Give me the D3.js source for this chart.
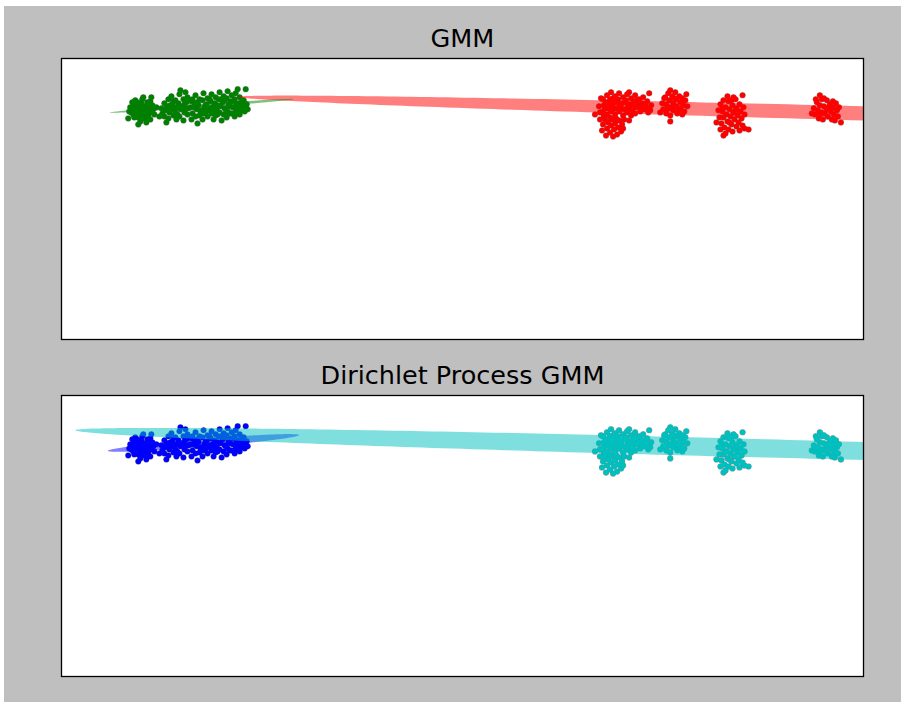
<!DOCTYPE html>
<html>
<head>
<meta charset="utf-8">
<script src="https://cdn.jsdelivr.net/npm/d3@7"></script>
<style>
  html, body { margin: 0; padding: 0; background: #ffffff; }
  svg { display: block; }
  text { font-family: "DejaVu Sans", sans-serif; }
</style>
</head>
<body>
<script>
// Samples, grouped by blob (x, y in data units)
const clusterA = [
  [7.1,22.9],[7.3,23.3],[7.5,22.6],[7.6,23.6],[7.8,23.0],[7.9,22.3],[8.0,23.5],[8.2,22.8],[8.3,23.2],
  [8.5,22.5],[8.6,23.6],[8.8,23.0],[9.0,22.6],[9.1,23.3],[7.2,22.4],[7.4,23.8],[7.7,22.1],[8.1,23.9],
  [8.4,22.0],[8.7,22.2],[9.2,22.9],[6.9,23.1],[7.0,22.6],[7.6,22.9],[8.0,22.7],[8.3,22.5],[8.6,22.9],
  [7.9,23.3],[8.9,23.7],[7.3,22.1],[7.5,23.2],[8.1,22.0],[8.7,23.3],[9.3,22.4],[6.8,22.7],[7.9,21.7],
  [8.5,21.6],[9.5,23.1],[7.1,23.6],[8.2,24.1],[9.8,22.2],[6.7,22.0],[8.9,21.9],[7.7,21.4],[9.0,24.1]
];
const clusterB = [
  [10.0,23.0],[10.1,22.5],[10.3,23.5],[10.4,22.8],[10.3,22.2],[10.7,23.9],[10.6,23.2],[10.8,22.6],
  [10.7,22.0],[11.0,24.2],[11.1,23.4],[11.0,22.9],[11.2,22.3],[11.4,23.8],[11.5,23.1],[11.4,22.6],
  [11.5,21.9],[11.8,24.4],[11.7,23.5],[11.9,22.9],[11.8,22.2],[12.2,23.9],[12.1,23.2],[12.3,22.6],
  [12.2,21.8],[12.6,24.1],[12.5,23.6],[12.7,23.0],[12.6,22.4],[13.0,23.7],[12.9,23.1],[13.1,22.5],
  [13.0,21.9],[13.4,24.3],[13.3,23.5],[13.5,22.9],[13.4,22.2],[13.8,23.9],[13.7,23.3],[13.9,22.7],
  [14.2,24.5],[14.1,23.8],[14.3,23.1],[14.2,22.5],[14.1,21.9],[14.6,24.0],[14.5,23.4],[14.7,22.8],
  [14.6,22.2],[15.0,24.4],[14.9,23.7],[15.1,23.1],[15.0,22.5],[15.4,24.1],[15.3,23.5],[15.5,22.9],
  [15.4,22.3],[15.8,24.6],[15.7,23.9],[15.9,23.2],[15.8,22.6],[16.2,24.2],[16.1,23.6],[16.3,23.0],
  [16.2,22.4],[16.6,24.7],[16.5,24.0],[16.7,23.4],[16.6,22.7],[16.5,22.1],[17.0,24.3],[16.9,23.7],
  [17.1,23.1],[17.0,22.5],[17.4,24.5],[17.3,23.9],[17.5,23.3],[17.4,22.7],[17.3,22.2],[17.8,24.1],
  [17.7,23.5],[17.9,22.9],[17.8,22.4],[18.2,23.8],[18.1,23.2],[18.3,22.7],[18.5,23.4],[18.6,22.9],
  [11.9,24.8],[18.4,24.9],[13.6,21.5],[16.0,21.8],[10.5,21.6],[12.4,24.6],[15.2,21.9],[17.6,24.9],
  [10.5,23.0],[11.2,23.7],[11.6,22.4],[12.0,23.0],[12.4,22.9],[12.8,23.8],[13.2,23.1],[13.6,23.6],
  [14.0,22.8],[14.4,23.3],[14.8,23.9],[15.2,22.7],[15.6,23.3],[16.0,23.9],[16.4,22.9],[16.8,23.2],
  [17.2,23.7],[17.6,23.0],[18.0,23.6],[18.4,23.2],[10.9,23.3],[11.3,22.9],[12.3,23.4],[13.1,23.9],
  [13.8,22.3],[14.4,22.6],[15.6,22.4],[16.8,22.5],[17.6,22.6],[18.0,22.8],[14.9,23.0],[16.3,23.8]
];
const clusterC = [
  [53.6,23.2],[53.7,22.6],[54.0,23.9],[54.1,23.3],[54.0,22.7],[54.1,22.2],[54.4,24.3],[54.3,23.6],
  [54.5,23.0],[54.4,22.4],[54.8,24.6],[54.7,23.9],[54.9,23.3],[54.8,22.7],[54.7,22.1],[55.2,24.2],
  [55.1,23.6],[55.3,23.0],[55.2,22.4],[55.6,24.5],[55.5,23.9],[55.7,23.3],[55.6,22.7],[56.0,24.1],
  [55.9,23.5],[56.1,22.9],[56.0,22.3],[56.4,24.4],[56.3,23.8],[56.5,23.2],[56.4,22.6],[56.8,24.0],
  [56.7,23.4],[56.9,22.8],[56.8,22.3],[57.2,24.3],[57.1,23.7],[57.3,23.1],[57.2,22.5],[57.6,23.9],
  [57.5,23.3],[57.7,22.7],[58.0,24.1],[57.9,23.5],[58.1,22.9],[58.4,23.7],[58.3,23.1],[58.5,22.6],
  [58.8,23.3],[58.7,22.8],[54.2,23.0],[54.6,23.5],[55.0,22.9],[55.4,23.6],[55.8,23.0],[56.2,23.6],
  [56.6,23.0],[57.0,23.3],[57.4,23.8],[57.8,23.1],[58.2,23.4],[56.6,24.6],[55.0,24.0],
  [53.7,21.9],[54.0,21.4],[54.2,21.9],[54.4,21.0],[54.5,21.6],[54.7,20.6],[54.8,21.3],[54.9,21.9],
  [55.1,20.9],[55.2,21.5],[55.4,20.4],[55.5,21.1],[55.6,21.8],[55.8,20.7],[55.9,21.4],[56.1,21.9],
  [53.9,20.8],[54.3,20.3],[55.0,20.2],[56.0,21.0],[54.1,22.3],[55.3,22.0],
  [53.2,22.4],[56.6,21.8],[58.6,24.5],[53.8,24.0]
];
const clusterD = [
  [59.9,23.5],[60.0,22.9],[60.2,24.1],[60.3,23.4],[60.3,22.5],[60.5,24.5],[60.6,23.8],[60.6,23.1],
  [60.7,22.3],[60.9,24.2],[61.0,23.5],[61.0,22.8],[61.2,24.6],[61.3,23.9],[61.3,23.2],[61.4,22.5],
  [61.6,24.2],[61.7,23.6],[61.7,22.9],[61.9,24.0],[62.0,23.3],[62.1,22.7],[62.2,23.8],[60.1,24.0],
  [61.5,23.0],[60.8,23.0],[61.1,24.0],[60.4,22.9],[61.9,22.4],[62.4,23.2],[60.7,24.8],[60.7,21.7],
  [59.7,22.6],[62.3,24.4]
];
const clusterE = [
  [65.5,22.8],[65.6,22.1],[65.7,23.4],[65.8,21.5],[65.9,22.7],[66.0,23.8],[66.0,22.1],[66.1,21.1],
  [66.2,23.1],[66.3,22.4],[66.4,21.7],[66.5,23.7],[66.5,20.9],[66.6,22.9],[66.7,22.2],[66.8,21.4],
  [66.9,23.3],[66.9,20.7],[67.0,22.6],[67.1,21.9],[67.2,23.9],[67.3,23.0],[67.3,21.2],[67.4,22.3],
  [67.5,21.6],[67.6,23.4],[67.7,22.7],[67.8,22.0],[67.9,21.3],[68.0,23.1],[66.2,20.5],[67.0,24.1],
  [66.4,24.2],[65.7,20.9],[68.1,22.4],[67.6,20.8],[66.6,21.6],[67.2,22.8],[65.9,23.0],[66.8,23.8],
  [67.9,24.3],[65.3,21.6],[68.5,20.9],[68.1,21.0],[66.0,20.3]
];
const clusterF = [
  [75.0,23.0],[75.1,22.4],[75.3,23.6],[75.4,22.8],[75.5,22.0],[75.6,23.3],[75.8,23.9],[75.8,22.6],
  [75.9,21.9],[76.0,23.2],[76.1,22.5],[76.3,23.8],[76.3,22.9],[76.4,22.2],[76.6,23.4],[76.7,22.7],
  [76.8,21.9],[76.9,23.1],[77.0,22.4],[77.2,23.5],[77.3,22.8],[77.4,22.2],[77.5,23.1],[75.2,23.9],
  [76.0,24.0],[75.6,22.4],[76.5,23.1],[76.9,23.7],[77.1,21.8],[75.6,24.3],[77.7,21.6],[74.8,22.5]
];
const clusters = [clusterA, clusterB, clusterC, clusterD, clusterE, clusterF];

// Component each blob is assigned to, per model
const gmmAssign   = [1, 1, 0, 0, 0, 0];
const dpgmmAssign = [0, 0, 1, 1, 1, 1];

// Fitted components: centre, semi-axes, rotation (degrees)
const gmmComponents = [
  { color: "#ff0000", cx: 91.6, cy: 22.2, a: 74.0, b: 0.72, angle: -1.5 },
  { color: "#008000", cx: 14.0, cy: 23.25, a: 9.2, b: 0.16, angle: 4.2 }
];
const dpgmmComponents = [
  { color: "#0000ff", cx: 14.2, cy: 23.24, a: 9.56, b: 0.40, angle: 4.7 },
  { color: "#00bfbf", cx: 64.8, cy: 22.84, a: 63.4, b: 0.91, angle: -1.5 }
];

const panelTitles = ["GMM", "Dirichlet Process GMM"];
const xDomain = [0, 80];
const yDomain = [0, 28];

const W = 901, H = 702;
const svg = d3.select("body").append("svg").attr("width", W).attr("height", H);

svg.append("rect").attr("x", 0).attr("y", 0).attr("width", W).attr("height", H).attr("fill", "#ffffff");
svg.append("rect").attr("x", 4).attr("y", 6).attr("width", W - 4).attr("height", H - 6).attr("fill", "#bfbfbf");

const panels = [
  { top: 58, bottom: 340, title: panelTitles[0], assign: gmmAssign, comps: gmmComponents },
  { top: 395, bottom: 677, title: panelTitles[1], assign: dpgmmAssign, comps: dpgmmComponents }
];
const left = 61, right = 864;

panels.forEach((p, pi) => {
  const x = d3.scaleLinear().domain(xDomain).range([left, right]);
  const y = d3.scaleLinear().domain(yDomain).range([p.bottom, p.top]);
  const g = svg.append("g");

  g.append("rect").attr("x", left).attr("y", p.top)
    .attr("width", right - left).attr("height", p.bottom - p.top).attr("fill", "#ffffff");

  const clipId = "clip" + pi;
  svg.append("clipPath").attr("id", clipId).append("rect")
    .attr("x", left).attr("y", p.top).attr("width", right - left).attr("height", p.bottom - p.top);

  const plot = g.append("g").attr("clip-path", `url(#${clipId})`);

  const pts = [];
  clusters.forEach((c, ci) => c.forEach(d => pts.push({ x: d[0], y: d[1], k: p.assign[ci] })));

  // marker edges first, fills on top, so only outer rims stay dark
  plot.append("g").selectAll("circle").data(pts).join("circle")
    .attr("cx", d => x(d.x)).attr("cy", d => y(d.y)).attr("r", 3.1)
    .attr("fill", "#3c3c3c").attr("fill-opacity", 0.5);
  plot.append("g").selectAll("circle").data(pts).join("circle")
    .attr("cx", d => x(d.x)).attr("cy", d => y(d.y)).attr("r", 2.75)
    .attr("fill", d => p.comps[d.k].color);

  // covariance ellipses, half transparent, drawn over the points
  const line = d3.line().x(d => x(d[0])).y(d => y(d[1])).curve(d3.curveLinearClosed);
  p.comps.forEach(c => {
    const th = c.angle * Math.PI / 180;
    const outline = d3.range(0, 2 * Math.PI, Math.PI / 180).map(t => [
      c.cx + c.a * Math.cos(t) * Math.cos(th) - c.b * Math.sin(t) * Math.sin(th),
      c.cy + c.a * Math.cos(t) * Math.sin(th) + c.b * Math.sin(t) * Math.cos(th)
    ]);
    plot.append("path").attr("d", line(outline))
      .attr("fill", c.color).attr("fill-opacity", 0.5).attr("stroke", "none");
  });

  g.append("rect").attr("x", left + 0.5).attr("y", p.top + 0.5)
    .attr("width", right - left - 1).attr("height", p.bottom - p.top - 1)
    .attr("fill", "none").attr("stroke", "#000000").attr("stroke-width", 1.3);

  g.append("text").attr("x", (left + right) / 2).attr("y", p.top - 11)
    .attr("text-anchor", "middle").attr("font-size", 25.5).attr("fill", "#000000")
    .text(p.title);
});
</script>
</body>
</html>
